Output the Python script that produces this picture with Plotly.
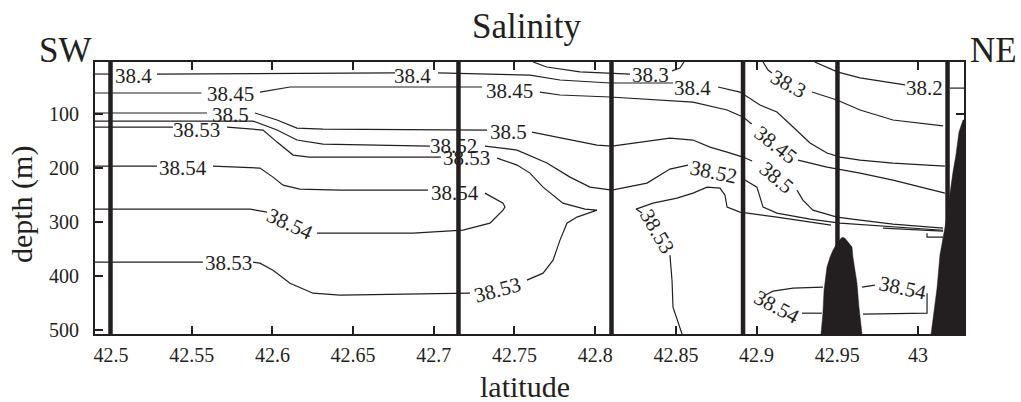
import plotly.graph_objects as go

# ---------------------------------------------------------------------------
# Axis ranges and ticks
# ---------------------------------------------------------------------------
lat_range = [42.4901, 43.0285]
depth_range = [507, 3.7]          # depth increases downward
lat_ticks = [42.5, 42.55, 42.6, 42.65, 42.7, 42.75, 42.8, 42.85, 42.9, 42.95, 43.0]
lat_tick_text = ["42.5", "42.55", "42.6", "42.65", "42.7", "42.75", "42.8",
                 "42.85", "42.9", "42.95", "43"]
depth_ticks = [100, 200, 300, 400, 500]

# CTD station positions (latitude)
station_lat = [42.4997, 42.7153, 42.8101, 42.8916, 42.9501, 43.0183]

# ---------------------------------------------------------------------------
# Salinity isolines (latitude, depth in m); None breaks the line at a label
# ---------------------------------------------------------------------------
c382_lat = [42.936, 42.950, 42.964, 42.985, 42.992, None, 43.0198, 43.0285]
c382_dep = [3.7, 22, 33, 43, 46, None, 52, 52]

c383w_lat = [42.7615, 42.770, 42.7906, 42.8092, 42.8216, None, 42.8476, 42.8525, 42.855]
c383w_dep = [3.7, 13, 22, 24, 26, None, 20, 15, 3.7]

c383e_lat = [42.904, 42.9071, 42.9095, None, 42.9343, 42.9498, 42.9641, 42.9845, 43.0155]
c383e_dep = [3.7, 18.5, 24, None, 59.3, 74, 92.6, 111, 122]

c384_lat = [42.4901, 42.4994, None, 42.5285, 42.60, 42.6729, 42.676, None,
            42.7026, 42.7596, 42.7782, 42.8092, 42.8482, None,
            42.8761, 42.8897, 42.9021, 42.9126, 42.9226, 42.9331, 42.9436,
            42.9517, 42.9641, 42.9845, 43.0167]
c384_dep = [26, 26, None, 26, 25, 24, 24, None,
            24, 28, 37, 42.6, 42.6, None,
            50, 59.3, 83.3, 96.3, 124, 153.7, 172,
            179.6, 185.2, 190.7, 196.3]

c3845_lat = [42.4901, 42.556, None, 42.5923, 42.6109, 42.6314, 42.730, None,
             42.7658, 42.7782, 42.8092, 42.8606, 42.8817, 42.8916, 42.897, None,
             42.9257, 42.9436, 42.9641, 42.9845, 43.0167]
c3845_dep = [61.1, 61.1, None, 59.3, 50, 50, 50, None,
             59.3, 64.8, 68.5, 77.8, 92.6, 105.6, 118.5, None,
             185.2, 198.1, 209.3, 222.2, 246.3]

c385_lat = [42.4901, 42.5595, None, 42.5892, 42.6029, 42.6152, 42.6314, 42.733, None,
            42.7608, 42.78, 42.8011, 42.8104, 42.8278, 42.8463, 42.8606, 42.8711,
            42.8817, 42.8916, 42.8972, None,
            42.925, 42.9287, 42.9349, 42.9498, 42.9641, 42.9845, 43.0155]
c385_dep = [98.1, 98.1, None, 98.1, 111, 125.9, 127.8, 129.6, None,
            133.3, 144.4, 157.4, 159.3, 151.9, 144.4, 148.1, 161.1,
            170.4, 179.6, 187, None,
            240.7, 259.3, 277.8, 290.7, 296.3, 303.7, 311.1]

c3852_lat = [42.4901, 42.588, 42.6029, 42.6152, 42.6314, 42.6729, 42.6976, None,
             42.7317, 42.7516, 42.7701, 42.7844, 42.7968, 42.8104, 42.8321,
             42.8463, 42.8575, None,
             42.8928, 42.9002, 42.9021, 42.904, 42.9126, 42.9331, 42.9517,
             42.9845, 43.0155]
c3852_dep = [113, 113, 129.6, 148.1, 155.6, 157.4, 159.3, None,
             159.3, 166.7, 190.7, 216.7, 235.2, 240.7, 227.8,
             201.9, 194.4, None,
             222.2, 235.2, 253.7, 272.2, 283.3, 294.4, 301.9,
             309.3, 315]

c3853a_lat = [42.4901, 42.5384, None,
              42.5719, 42.5942, 42.6029, 42.6128, 42.623, 42.6419, 42.7044, None,
              42.7392, 42.7516, 42.7596, 42.7677, 42.78, 42.7937, 42.8011,
              42.7887, 42.7825, 42.7782, 42.7739, 42.7677, 42.7577, None,
              42.7224, 42.6871, 42.6419, 42.6252, 42.6109, 42.6004, 42.5923,
              42.588, None, 42.557, 42.4901]
c3853a_dep = [124.1, 124.1, None,
              124.1, 129.6, 151.9, 175.9, 179.6, 179.6, 179.6, None,
              181.5, 194.4, 209.3, 235.2, 264.8, 275.9, 277.8,
              290.7, 301.9, 333.3, 370.4, 394.4, 407.4, None,
              431.5, 433.3, 435.2, 431.5, 413, 388.9, 375.9,
              374.1, None, 374.1, 374.1]

c3853b_lat = [42.8538, 42.8482, 42.8476, 42.8463, None,
              42.829, 42.8253, 42.8358, 42.8507, 42.8606, 42.8693, 42.8773,
              42.8804, 42.8817, 42.8897, 42.9126, 42.9461, None,
              42.9783, 43.0155, None, 43.0056, 43.0056, 43.0155]
c3853b_dep = [507, 457.4, 407.4, 361, None,
              283.3, 275.9, 264.8, 255.6, 246.3, 235.2, 237,
              250, 272.2, 281.5, 290.7, 305.6, None,
              311.1, 316.7, None, 320.4, 327.8, 327.8]

c3854a_lat = [42.4901, 42.5285, None,
              42.5632, 42.5923, 42.6004, 42.6066, 42.6171, 42.6419, 42.6964, None,
              42.7317, 42.7429, 42.7441, 42.7429, 42.7348, 42.7181, 42.6871,
              42.6419, 42.6276, None, 42.5967, 42.5861, 42.4901]
c3854a_dep = [196.3, 196.3, None,
              196.3, 200, 216.7, 231.5, 238.9, 240.7, 240.7, None,
              246.3, 264.8, 272, 277.8, 301.9, 314.8, 320.4,
              320.4, 320.4, None, 281.5, 275.9, 275.9]

c3854b_lat = [42.9411, 42.9226, 42.9102, 42.9052, None, 42.9281, 42.9405]
c3854b_dep = [420.4, 422.2, 427.8, 435.2, None, 468.5, 468.5]

c3854c_lat = [42.9653, 42.9733, None, 43.0056, 43.0056, 42.9659]
c3854c_dep = [420.4, 416.7, None, 431.5, 468.5, 470.4]

# Isoline labels: level, position and rotation (deg, clockwise)
label_level = [38.2, 38.3, 38.3,
               38.4, 38.4, 38.4,
               38.45, 38.45, 38.45,
               38.5, 38.5, 38.5,
               38.52, 38.52,
               38.53, 38.53, 38.53, 38.53, 38.53,
               38.54, 38.54, 38.54, 38.54, 38.54]
label_lat = [43.0043, 42.834, 42.9198,
             42.514, 42.6868, 42.8603,
             42.5743, 42.7472, 42.912,
             42.574, 42.7463, 42.9126,
             42.7122, 42.8733,
             42.553, 42.7203, 42.7395, 42.5731, 42.8383,
             42.5449, 42.7131, 42.6109, 42.9126, 42.9907]
label_dep = [51, 28, 44.4,
             28.7, 28.7, 51,
             63, 56.5, 157.4,
             102, 132.4, 218.5,
             159, 206.5,
             128.7, 181, 426, 375, 316,
             199, 246.3, 303.7, 457.4, 422]
label_angle = [0, 0, 28,
               0, 0, 0,
               0, 0, 38,
               0, 0, 40,
               0, 12,
               0, 0, -15, 0, 60,
               0, 0, 25, 28, 12]

# Bottom topography (filled)
ridge_lat = [42.9399, 42.9411, 42.9418, 42.9436, 42.9455, 42.9473, 42.9498, 42.9529,
             42.9548, 42.9566, 42.9591, 42.9597, 42.961, 42.9622, 42.9634, 42.9653]
ridge_dep = [507, 468.5, 426, 383, 365, 352, 339, 328,
             330, 337, 346, 365, 389, 413, 457, 507]
slope_lat = [43.0081, 43.0118, 43.0136, 43.0173, 43.0217, 43.0235, 43.0254, 43.0279,
             43.0285, 43.0285]
slope_dep = [507, 422, 361, 300, 207, 176, 133, 111, 111, 507]

# ---------------------------------------------------------------------------
ink = "#231f20"
serif = "'Liberation Serif', 'Times New Roman', Times, 'DejaVu Serif', serif"

fig = go.Figure()

contours = [
    (c382_lat, c382_dep), (c383w_lat, c383w_dep), (c383e_lat, c383e_dep),
    (c384_lat, c384_dep), (c3845_lat, c3845_dep), (c385_lat, c385_dep),
    (c3852_lat, c3852_dep), (c3853a_lat, c3853a_dep), (c3853b_lat, c3853b_dep),
    (c3854a_lat, c3854a_dep), (c3854b_lat, c3854b_dep), (c3854c_lat, c3854c_dep),
]
for xs, ys in contours:
    fig.add_trace(go.Scatter(x=xs, y=ys, mode="lines", connectgaps=False,
                             line=dict(color=ink, width=1.2),
                             hoverinfo="skip", showlegend=False))

for s in station_lat:
    fig.add_trace(go.Scatter(x=[s, s], y=[depth_range[1], depth_range[0]], mode="lines",
                             line=dict(color=ink, width=4.5),
                             hoverinfo="skip", showlegend=False))

for xs, ys in [(ridge_lat, ridge_dep), (slope_lat, slope_dep)]:
    fig.add_trace(go.Scatter(x=xs, y=ys, mode="lines", fill="toself",
                             fillcolor=ink, line=dict(color=ink, width=0.5),
                             hoverinfo="skip", showlegend=False))

for lev, la, de, ang in zip(label_level, label_lat, label_dep, label_angle):
    fig.add_annotation(x=la, y=de, xref="x", yref="y", text=f"{lev:g}",
                       showarrow=False, textangle=ang, borderpad=0,
                       font=dict(family=serif, size=21, color=ink))

# Titles and section end markers
fig.add_annotation(x=0.497, y=1.05, xref="paper", yref="paper", text="Salinity",
                   showarrow=False, xanchor="center", yanchor="bottom",
                   font=dict(family=serif, size=35, color=ink))
fig.add_annotation(x=-0.0334, y=0.965, xref="paper", yref="paper", text="SW",
                   showarrow=False, xanchor="center", yanchor="bottom",
                   font=dict(family=serif, size=35, color=ink))
fig.add_annotation(x=1.0334, y=0.965, xref="paper", yref="paper", text="NE",
                   showarrow=False, xanchor="center", yanchor="bottom",
                   font=dict(family=serif, size=35, color=ink))
fig.add_annotation(x=0.4948, y=-0.125, xref="paper", yref="paper", text="latitude",
                   showarrow=False, xanchor="center", yanchor="top",
                   font=dict(family=serif, size=30, color=ink))
fig.add_annotation(x=-0.084, y=0.474, xref="paper", yref="paper", text="depth (m)",
                   showarrow=False, textangle=-90, xanchor="center", yanchor="middle",
                   font=dict(family=serif, size=30, color=ink))

axis_common = dict(showgrid=False, zeroline=False, showline=True, linecolor=ink,
                   linewidth=2, mirror="ticks", ticks="inside", ticklen=8,
                   tickwidth=1.5, tickcolor=ink,
                   tickfont=dict(family=serif, size=20, color=ink))

fig.update_layout(
    width=1021, height=402,
    margin=dict(l=95, r=57, t=62, b=68),
    paper_bgcolor="white", plot_bgcolor="white",
    font=dict(family=serif, color=ink),
    xaxis=dict(range=lat_range, tickvals=lat_ticks, ticktext=lat_tick_text,
               ticklabelstandoff=2, **axis_common),
    yaxis=dict(range=depth_range, tickvals=depth_ticks,
               ticklabelstandoff=10, **axis_common),
)

fig.write_html("out.html")
